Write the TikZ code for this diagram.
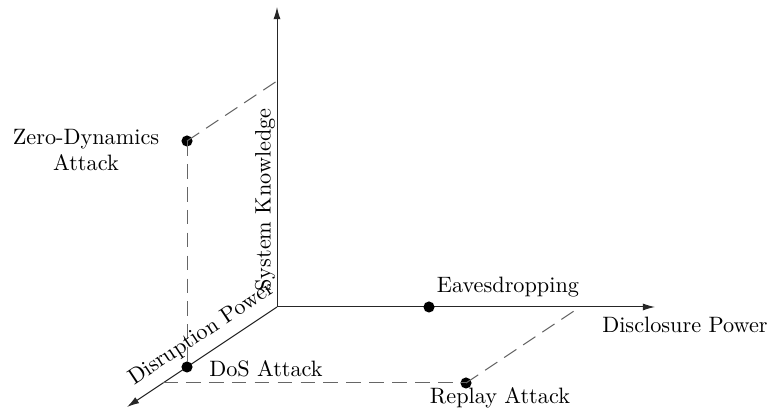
\documentclass[tikz,border=0pt]{standalone}
\usetikzlibrary{arrows.meta}
\begin{document}
\begin{tikzpicture}[x=0.0158cm,y=-0.0158cm,
  axis/.style={line width=0.45pt,draw=black!85,-{Latex[length=5.5pt,width=3.2pt]}},
  guide/.style={line width=0.45pt,draw=black!60,dash pattern=on 6.6pt off 3.7pt},
  dot/.style={circle,fill=black,inner sep=0pt,minimum size=5pt},
  lbl/.style={inner sep=1pt,font=\normalsize}]
\useasboundingbox (0,0) rectangle (771,413);
% axes
\coordinate (O) at (277,307);
\coordinate (Ztop) at (277,7);
\coordinate (Xend) at (655,307);
\coordinate (Yend) at (127,407);
\draw[axis] (O) -- (Ztop);
\draw[axis] (O) -- (Xend);
\draw[axis] (O) -- (Yend);
% points
\node[dot] (zd) at (187,141) {};
\node[dot] (dos) at (187,367) {};
\node[dot] (eav) at (429,307) {};
\node[dot] (rep) at (466,383) {};
\coordinate (zdz) at (277,81);
\coordinate (dosy) at (163,383);
\coordinate (repx) at (580,307);
% guides
\draw[guide] (zd.center) -- (zdz);
\draw[guide] (zd.center) -- (dos.center);
\draw[guide] (dosy) -- (rep.center);
\draw[guide] (rep.center) -- (repx);
% labels
\node[lbl,align=center] (zdl) at (86,150) {Zero-Dynamics\\Attack};
\node[lbl] (eavl) at (508,287) {Eavesdropping};
\node[lbl] (xl) at (685,325) {Disclosure Power};
\node[lbl] (repl) at (500,398) {Replay Attack};
\node[lbl] (dosl) at (266,369) {DoS Attack};
\node[lbl,rotate=90] (zl) at (265,200) {System Knowledge};
\node[lbl,rotate=33.6] (yl) at (202,334) {Disruption Power};
\end{tikzpicture}
\end{document}
